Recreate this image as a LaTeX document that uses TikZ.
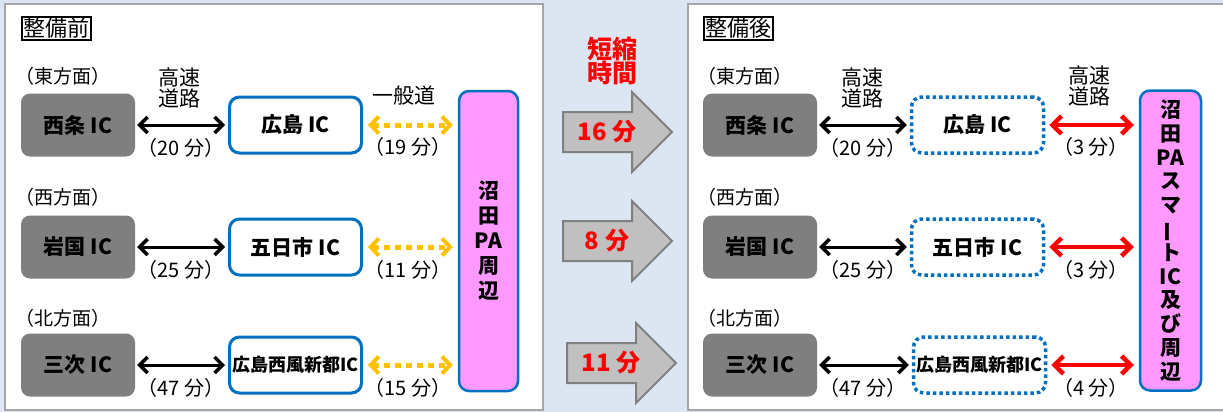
\documentclass[tikz,border=0pt]{standalone}
\usepackage{fontspec}
\setmainfont{Noto Sans CJK JP}
\usetikzlibrary{arrows.meta}

\definecolor{bgblue}{HTML}{DCE6F2}
\definecolor{icgray}{HTML}{7F7F7F}
\definecolor{icblue}{HTML}{0070C0}
\definecolor{papink}{HTML}{FF99FF}
\definecolor{roadyellow}{HTML}{FFC000}
\definecolor{arrowgray}{HTML}{C0C0C0}
\definecolor{arrowedge}{HTML}{808080}
\definecolor{framegray}{HTML}{A6A6A6}

\tikzset{
  panel/.style={fill=white, draw=framegray, line width=2pt},
  titlebox/.style={draw, line width=1.8pt, inner sep=1.5pt, font=\fontsize{22}{23}\selectfont},
  dirlbl/.style={anchor=west, inner sep=0pt, font=\fontsize{19}{20}\selectfont},
  roadlbl/.style={align=center, inner sep=0pt, font=\fontsize{21}{21}\selectfont},
  timelbl/.style={inner sep=0pt, font=\fontsize{20}{20}\selectfont},
  oldic/.style={fill=icgray, rounded corners=9pt, minimum width=114pt, minimum height=63pt,
    font=\bfseries\fontsize{21}{22}\selectfont},
  newic/.style={fill=white, draw=icblue, line width=3pt, rounded corners=10pt,
    minimum width=132pt, minimum height=56pt, inner sep=0pt,
    font=\bfseries\fontsize{21}{22}\selectfont},
  newicdot/.style={newic, line width=3.5pt, dash pattern=on 3.5pt off 3pt},
  pabox/.style={fill=papink, draw=icblue, line width=2.5pt, rounded corners=10pt,
    minimum width=59pt, minimum height=300pt, inner sep=0pt, align=center},
  hwy/.style={<->, >={Straight Barb[length=8pt,width=16pt,line width=3.5pt]}, line width=3pt,
    shorten <=2pt, shorten >=3pt},
  ippan/.style={<->, >={Straight Barb[length=8pt,width=17pt,line width=4pt]}, roadyellow, line width=5pt,
    dash pattern=on 6pt off 5pt, shorten <=5pt, shorten >=5pt},
  smartroad/.style={<->, >={Straight Barb[length=9pt,width=18pt,line width=4.5pt]}, red, line width=4.5pt,
    shorten <=4pt, shorten >=5pt},
  gainarrow/.style={fill=arrowgray, draw=arrowedge, line width=2pt, line join=miter},
  gainlbl/.style={text=red, inner sep=0pt, font=\bfseries\fontsize{24}{24}\selectfont},
}

\begin{document}
\begin{tikzpicture}[x=1pt, y=-1pt]
        %%%%%%%%% Sfondo %%%%%%%%%
        \useasboundingbox (0,0) rectangle (1223,412);
        \fill[bgblue] (0,0) rectangle (1223,412);
        \draw[panel] (5,4) rectangle (543,410);
        \draw[panel] (688,4) rectangle (1230,410);

        %%%%%%%%% Prima %%%%%%%%%
        \node[titlebox] (before) at (56.5,28.5) {整備前};
        \node[dirlbl] (east1) at (15,76) {（東方面）};
        \node[dirlbl] (west1) at (15,197) {（西方面）};
        \node[dirlbl] (north1) at (15,318) {（北方面）};

        \node[oldic] (saijo1) at (78,125) {西条 IC};
        \node[oldic] (iwakuni1) at (78,247) {岩国 IC};
        \node[oldic] (miyoshi1) at (78,365) {三次 IC};

        \node[newic] (hiroshima1) at (295.5,125) {広島 IC};
        \node[newic] (itsukaichi1) at (295.5,247) {五日市 IC};
        \node[newic, font=\bfseries\fontsize{18}{20}\selectfont] (seifu1) at (295.5,365) {広島西風新都IC};

        \node[pabox, font=\bfseries\fontsize{21}{25}\selectfont] (pa1) at (488.5,241) {沼\\田\\PA\\周\\辺};

        \draw[hwy] (saijo1) -- (hiroshima1);
        \draw[hwy] (iwakuni1) -- (itsukaichi1);
        \draw[hwy] (miyoshi1) -- (seifu1);
        \draw[ippan] (hiroshima1) -- (hiroshima1 -| pa1.west);
        \draw[ippan] (itsukaichi1) -- (itsukaichi1 -| pa1.west);
        \draw[ippan] (seifu1) -- (seifu1 -| pa1.west);

        \node[roadlbl] (kosoku1) at (179,88) {高速\\道路};
        \node[roadlbl] (ippando1) at (404,96) {一般道};
        \node[timelbl] (t20a) at (181,148) {（20 分）};
        \node[timelbl] (t19) at (408,147) {（19 分）};
        \node[timelbl] (t25a) at (181,270) {（25 分）};
        \node[timelbl] (t11) at (408,270) {（11 分）};
        \node[timelbl] (t47a) at (181,388) {（47 分）};
        \node[timelbl] (t15) at (408,388) {（15 分）};

        %%%%%%%%% Frecce %%%%%%%%%
        \node[gainlbl, align=center, font=\bfseries\fontsize{25}{22}\selectfont] (tanshuku) at (612,61) {短縮\\時間};
        \foreach \xa/\ya/\txt/\nm in {563/132/16 分/gain1, 563/241/8 分/gain2, 567/363/11 分/gain3} {
            \draw[gainarrow] (\xa,\ya-20) -- ++(69,0) -- ++(0,-20) -- ++(40,40)
                -- ++(-40,40) -- ++(0,-20) -- ++(-69,0) -- cycle;
            \node[gainlbl] (\nm) at (\xa+44,\ya) {\txt};
        }

        %%%%%%%%% Dopo %%%%%%%%%
        \node[titlebox] (after) at (738.5,28.5) {整備後};
        \node[dirlbl] (east2) at (697,76) {（東方面）};
        \node[dirlbl] (west2) at (697,197) {（西方面）};
        \node[dirlbl] (north2) at (697,318) {（北方面）};

        \node[oldic] (saijo2) at (760,125) {西条 IC};
        \node[oldic] (iwakuni2) at (760,247) {岩国 IC};
        \node[oldic] (miyoshi2) at (760,365) {三次 IC};

        \node[newicdot] (hiroshima2) at (977.5,125) {広島 IC};
        \node[newicdot] (itsukaichi2) at (977.5,247) {五日市 IC};
        \node[newicdot, font=\bfseries\fontsize{18}{20}\selectfont] (seifu2) at (979.5,365) {広島西風新都IC};

        \node[pabox, minimum width=61pt, font=\bfseries\fontsize{21}{23.8}\selectfont] (pa2) at (1170.5,240.5)
            {沼\\田\\PA\\ス\\マ\\\rotatebox[origin=c]{90}{ー}\\ト\\IC\\及\\び\\周\\辺};

        \draw[hwy] (saijo2) -- (hiroshima2);
        \draw[hwy] (iwakuni2) -- (itsukaichi2);
        \draw[hwy] (miyoshi2) -- (seifu2);
        \draw[smartroad] (hiroshima2) -- (hiroshima2 -| pa2.west);
        \draw[smartroad] (itsukaichi2) -- (itsukaichi2 -| pa2.west);
        \draw[smartroad] (seifu2) -- (seifu2 -| pa2.west);

        \node[roadlbl] (kosoku2) at (862,88) {高速\\道路};
        \node[roadlbl] (kosoku3) at (1089,86) {高速\\道路};
        \node[timelbl] (t20b) at (863,148) {（20 分）};
        \node[timelbl] (t3a) at (1091,147) {（3 分）};
        \node[timelbl] (t25b) at (863,270) {（25 分）};
        \node[timelbl] (t3b) at (1091,270) {（3 分）};
        \node[timelbl] (t47b) at (863,388) {（47 分）};
        \node[timelbl] (t4) at (1091,388) {（4 分）};
    \end{tikzpicture}
\end{document}
